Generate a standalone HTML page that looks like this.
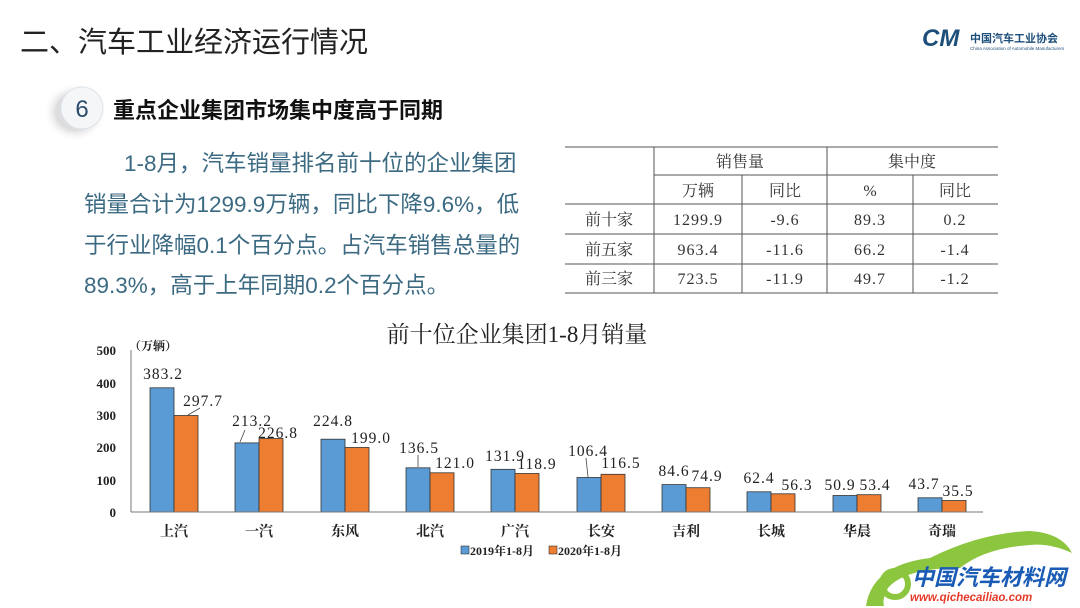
<!DOCTYPE html>
<html><head><meta charset="utf-8"><style>
html,body{margin:0;padding:0;background:#fff;}
body{width:1080px;height:608px;overflow:hidden;position:relative;}
svg{position:absolute;left:0;top:0;}
</style></head><body>
<svg width="1080" height="608" viewBox="0 0 1080 608" xmlns="http://www.w3.org/2000/svg">
<defs>
<radialGradient id="sh" cx="0.5" cy="0.5" r="0.5"><stop offset="0.6" stop-color="#ddd"/><stop offset="1" stop-color="#fff" stop-opacity="0"/></radialGradient>
</defs>
<text x="20" y="52" font-family="'Liberation Sans','Noto Sans CJK SC',sans-serif" font-size="29" fill="#222">二、汽车工业经济运行情况</text>
<text x="922" y="46" font-family="'Liberation Sans',sans-serif" font-size="24" font-weight="bold" font-style="italic" fill="#1e4f7a">CM</text>
<text x="970" y="42" font-family="'Liberation Sans','Noto Sans CJK SC',sans-serif" font-size="11" font-weight="bold" fill="#1e4f7a">中国汽车工业协会</text>
<text x="970" y="50" font-family="'Liberation Sans',sans-serif" font-size="4.5" fill="#1e4f7a">China Association of Automobile Manufacturers</text>
<ellipse cx="75" cy="112" rx="32" ry="30" fill="url(#sh)"/>
<circle cx="82" cy="108" r="21" fill="#f4f6f8" stroke="#dde3ea"/>
<text x="82" y="117" text-anchor="middle" font-family="'Liberation Sans',sans-serif" font-size="24" fill="#2c4c6b">6</text>
<text x="113" y="118" font-family="'Liberation Sans','Noto Sans CJK SC',sans-serif" font-size="22" font-weight="bold" fill="#111">重点企业集团市场集中度高于同期</text>
<g font-family="'Liberation Sans','Noto Sans CJK SC',sans-serif" font-size="22.5" fill="#3b6a82">
<text x="124" y="171">1-8月，汽车销量排名前十位的企业集团</text>
<text x="84" y="212">销量合计为1299.9万辆，同比下降9.6%，低</text>
<text x="84" y="253">于行业降幅0.1个百分点。占汽车销售总量的</text>
<text x="84" y="293">89.3%，高于上年同期0.2个百分点。</text>
</g>
<g stroke="#555" stroke-width="1">
<line x1="565" y1="147" x2="998" y2="147"/>
<line x1="654" y1="175" x2="998" y2="175"/>
<line x1="565" y1="204" x2="998" y2="204"/>
<line x1="565" y1="234" x2="998" y2="234"/>
<line x1="565" y1="264" x2="998" y2="264"/>
<line x1="565" y1="293" x2="998" y2="293"/>
<line x1="654" y1="147" x2="654" y2="293"/>
<line x1="827" y1="147" x2="827" y2="293"/>
<line x1="742" y1="175" x2="742" y2="293"/>
<line x1="913" y1="175" x2="913" y2="293"/>
</g>
<g font-family="'Liberation Serif','Noto Serif CJK SC',serif" font-size="16" fill="#333" text-anchor="middle">
<text x="740" y="167">销售量</text><text x="912" y="167">集中度</text>
<text x="698" y="196">万辆</text><text x="785" y="196">同比</text><text x="870" y="196">%</text><text x="955" y="196">同比</text>
<text x="609" y="225">前十家</text><text x="698" y="225" letter-spacing="1">1299.9</text><text x="785" y="225" letter-spacing="1">-9.6</text><text x="870" y="225" letter-spacing="1">89.3</text><text x="955" y="225" letter-spacing="1">0.2</text>
<text x="609" y="255">前五家</text><text x="698" y="255" letter-spacing="1">963.4</text><text x="785" y="255" letter-spacing="1">-11.6</text><text x="870" y="255" letter-spacing="1">66.2</text><text x="955" y="255" letter-spacing="1">-1.4</text>
<text x="609" y="284">前三家</text><text x="698" y="284" letter-spacing="1">723.5</text><text x="785" y="284" letter-spacing="1">-11.9</text><text x="870" y="284" letter-spacing="1">49.7</text><text x="955" y="284" letter-spacing="1">-1.2</text>
</g>
<text x="517" y="342" text-anchor="middle" font-family="'Liberation Serif','Noto Serif CJK SC',serif" font-size="23" fill="#222">前十位企业集团1-8月销量</text>
<g font-family="'Liberation Serif',serif" font-size="13" font-weight="bold" fill="#222" text-anchor="end">
<text x="116" y="517">0</text><text x="116" y="485">100</text><text x="116" y="452">200</text><text x="116" y="420">300</text><text x="116" y="388">400</text><text x="116" y="355">500</text>
</g>
<text x="129" y="350" font-family="'Liberation Serif','Noto Serif CJK SC',serif" font-size="12" font-weight="bold" fill="#222">（万辆）</text>
<line x1="131" y1="350" x2="131" y2="512" stroke="#777"/>
<g stroke="#333" stroke-width="0.8">
<rect x="150" y="387.8" width="24" height="124.2" fill="#5b9bd5"/><rect x="174" y="415.5" width="24" height="96.5" fill="#ed7d31"/>
<rect x="235" y="442.9" width="24" height="69.1" fill="#5b9bd5"/><rect x="259" y="438.5" width="24" height="73.5" fill="#ed7d31"/>
<rect x="321" y="439.2" width="24" height="72.8" fill="#5b9bd5"/><rect x="345" y="447.5" width="24" height="64.5" fill="#ed7d31"/>
<rect x="406" y="467.8" width="24" height="44.2" fill="#5b9bd5"/><rect x="430" y="472.8" width="24" height="39.2" fill="#ed7d31"/>
<rect x="491" y="469.3" width="24" height="42.7" fill="#5b9bd5"/><rect x="515" y="473.5" width="24" height="38.5" fill="#ed7d31"/>
<rect x="577" y="477.5" width="24" height="34.5" fill="#5b9bd5"/><rect x="601" y="474.3" width="24" height="37.7" fill="#ed7d31"/>
<rect x="662" y="484.6" width="24" height="27.4" fill="#5b9bd5"/><rect x="686" y="487.7" width="24" height="24.3" fill="#ed7d31"/>
<rect x="747" y="491.8" width="24" height="20.2" fill="#5b9bd5"/><rect x="771" y="493.8" width="24" height="18.2" fill="#ed7d31"/>
<rect x="833" y="495.5" width="24" height="16.5" fill="#5b9bd5"/><rect x="857" y="494.7" width="24" height="17.3" fill="#ed7d31"/>
<rect x="918" y="497.8" width="24" height="14.2" fill="#5b9bd5"/><rect x="942" y="500.5" width="24" height="11.5" fill="#ed7d31"/>
</g>
<line x1="131" y1="512" x2="983" y2="512" stroke="#777"/>
<g stroke="#444" stroke-width="0.8" fill="none">
<line x1="200" y1="408" x2="188" y2="415"/>
<line x1="245" y1="430" x2="240" y2="442"/>
<line x1="418" y1="455" x2="418" y2="467"/>
<line x1="586" y1="458" x2="588" y2="477"/>
</g>
<g font-family="'Liberation Serif','Noto Serif CJK SC',serif" font-size="15.5" fill="#222" text-anchor="middle" letter-spacing="1">
<text x="163" y="379">383.2</text><text x="203" y="406">297.7</text>
<text x="252" y="426">213.2</text><text x="278" y="438">226.8</text>
<text x="333" y="426">224.8</text><text x="371" y="443">199.0</text>
<text x="419" y="453">136.5</text><text x="455" y="468">121.0</text>
<text x="505" y="461">131.9</text><text x="537" y="469">118.9</text>
<text x="588" y="456">106.4</text><text x="621" y="468">116.5</text>
<text x="674" y="476">84.6</text><text x="707" y="481">74.9</text>
<text x="759" y="483">62.4</text><text x="797" y="490">56.3</text>
<text x="840" y="490">50.9</text><text x="875" y="490">53.4</text>
<text x="924" y="489">43.7</text><text x="958" y="496">35.5</text>
</g>
<g font-family="'Liberation Serif','Noto Serif CJK SC',serif" font-size="14" font-weight="bold" fill="#222" text-anchor="middle">
<text x="174" y="536">上汽</text><text x="259" y="536">一汽</text><text x="345" y="536">东风</text><text x="430" y="536">北汽</text><text x="515" y="536">广汽</text><text x="601" y="536">长安</text><text x="686" y="536">吉利</text><text x="771" y="536">长城</text><text x="857" y="536">华晨</text><text x="942" y="536">奇瑞</text>
</g>
<rect x="461" y="546" width="8" height="8" fill="#5b9bd5" stroke="#333" stroke-width="0.6"/>
<text x="470" y="555" font-family="'Liberation Serif','Noto Serif CJK SC',serif" font-size="12" font-weight="bold" fill="#222">2019年1-8月</text>
<rect x="549" y="546" width="8" height="8" fill="#ed7d31" stroke="#333" stroke-width="0.6"/>
<text x="558" y="555" font-family="'Liberation Serif','Noto Serif CJK SC',serif" font-size="12" font-weight="bold" fill="#222">2020年1-8月</text>
<path d="M866 606 Q872 565 930 558 Q980 533 1030 531 Q1062 533 1072 553 Q1050 543 1030 545 Q985 548 960 568 Q905 568 888 588 Q882 598 884 606 Z" fill="#8cc63f"/>
<circle cx="895" cy="584" r="13" fill="none" stroke="#8cc63f" stroke-width="6"/>
<text x="912" y="585" font-family="'Liberation Sans','Noto Sans CJK SC',sans-serif" font-size="22" font-weight="bold" font-style="italic" fill="#1a5bb5">中国汽车材料网</text>
<text x="910" y="601" font-family="'Liberation Sans',sans-serif" font-size="11.5" font-weight="bold" font-style="italic" fill="#e53a2a">www.qichecailiao.com</text>
</svg>
</body></html>
